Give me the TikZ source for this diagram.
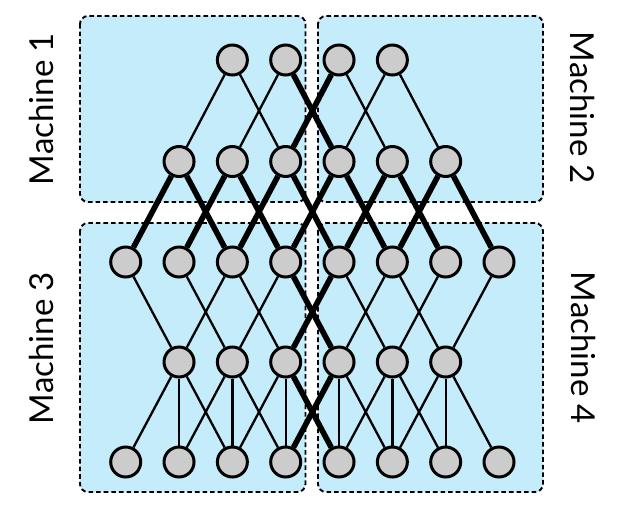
\documentclass[tikz,border=0pt]{standalone}
\usepackage{fontspec}
\setsansfont{Lato}
\definecolor{boxblue}{RGB}{196,236,251}
\definecolor{nodegray}{RGB}{204,204,204}
\tikzset{
  machine/.style={draw, dash pattern=on 2.3pt off 1.5pt, line width=0.95pt, rounded corners=4pt, fill=boxblue},
  vertex/.style={circle, draw, line width=1.5pt, fill=nodegray, minimum size=15pt, inner sep=0pt},
  link/.style={line width=1.15pt},
  hot/.style={line width=2.8pt},
  machlabel/.style={font=\sffamily\fontsize{16.5}{18}\selectfont}
}
\begin{document}
\begin{tikzpicture}[x=0.5pt,y=-0.5pt]
\useasboundingbox (0,0) rectangle (617,515);

% the four machines
\draw[machine] (80,16) rectangle (305.5,202);
\draw[machine] (318,16) rectangle (543,202);
\draw[machine] (80,223) rectangle (305.5,492);
\draw[machine] (318,223) rectangle (543,492);

\node[machlabel, rotate=90] (m1) at (41,109) {Machine 1};
\node[machlabel, rotate=-90] (m2) at (583,108) {Machine 2};
\node[machlabel, rotate=90] (m3) at (41,348) {Machine 3};
\node[machlabel, rotate=-90] (m4) at (584,348) {Machine 4};

% vertices, row by row
\foreach \c in {2,...,5} \node[vertex] (r1-\c) at ({125.7+53.33*\c},60) {};
\foreach \c in {1,...,6} \node[vertex] (r2-\c) at ({125.7+53.33*\c},161.5) {};
\foreach \c in {0,...,7} \node[vertex] (r3-\c) at ({125.7+53.33*\c},262) {};
\foreach \c in {1,...,6} \node[vertex] (r4-\c) at ({125.7+53.33*\c},362) {};
\foreach \c in {0,...,7} \node[vertex] (r5-\c) at ({125.7+53.33*\c},462) {};

% edges
\foreach \c [evaluate=\c as \l using int(\c-1), evaluate=\c as \u using int(\c+1)] in {2,...,5} {
  \draw[link] (r1-\c) -- (r2-\l);
  \draw[link] (r1-\c) -- (r2-\u);
}
\foreach \c [evaluate=\c as \l using int(\c-1), evaluate=\c as \u using int(\c+1)] in {1,...,6} {
  \draw[hot] (r2-\c) -- (r3-\l);
  \draw[hot] (r2-\c) -- (r3-\u);
  \draw[link] (r3-\l) -- (r4-\c);
  \draw[link] (r3-\u) -- (r4-\c);
  \draw[link] (r4-\c) -- (r5-\l);
  \draw[link] (r4-\c) -- (r5-\c);
  \draw[link] (r4-\c) -- (r5-\u);
}

% the path across the machines
\draw[hot] (r1-3) -- (r2-4);
\draw[hot] (r1-4) -- (r2-3);
\draw[hot] (r3-3) -- (r4-4);
\draw[hot] (r3-4) -- (r4-3);
\draw[hot] (r4-3) -- (r5-4);
\draw[hot] (r4-4) -- (r5-3);
\end{tikzpicture}
\end{document}
